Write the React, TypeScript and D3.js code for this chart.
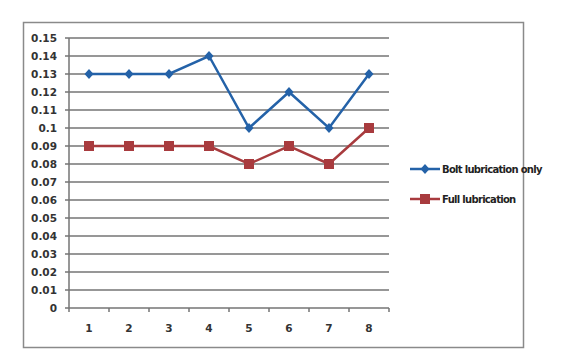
import React from "react";
import * as d3 from "d3";

const categories = ["1", "2", "3", "4", "5", "6", "7", "8"];
const boltOnly = [0.13, 0.13, 0.13, 0.14, 0.1, 0.12, 0.1, 0.13];
const fullLub = [0.09, 0.09, 0.09, 0.09, 0.08, 0.09, 0.08, 0.1];
const yTicks = [0, 0.01, 0.02, 0.03, 0.04, 0.05, 0.06, 0.07, 0.08, 0.09, 0.1, 0.11, 0.12, 0.13, 0.14, 0.15];
const seriesNames = ["Bolt lubrication only", "Full lubrication"];

const W = 561, H = 356;
const left = 69, right = 389, top = 38, bottom = 308;

export default function App() {
  const x = d3.scaleBand<string>().domain(categories).range([left, right]);
  const y = d3.scaleLinear().domain([0, 0.15]).range([bottom, top]);
  const line = d3.line<number>().x((_, i) => x(categories[i])! + x.bandwidth() / 2).y((v) => y(v));
  const blue = "#2462a8";
  const red = "#a83b3e";
  const grid = "#747474";
  const font = "'DejaVu Sans', Verdana, sans-serif";
  const diamond = (cx: number, cy: number, k: string) => (
    <path key={k} d={`M${cx},${cy - 5}L${cx + 4.5},${cy}L${cx},${cy + 5}L${cx - 4.5},${cy}Z`} fill={blue} />
  );
  const square = (cx: number, cy: number, k: string) => (
    <rect key={k} x={cx - 5} y={cy - 5} width={10} height={10} fill={red} />
  );
  return (
    <svg width={W} height={H} style={{ position: "absolute", left: 0, top: 0 }} fontFamily={font}>
      <rect x={0} y={0} width={W} height={H} fill="#fff" />
      <rect x={23.5} y={22.5} width={500} height={325} fill="none" stroke="#8a8a8a" strokeWidth={1.5} />
      {yTicks.map((t) => (
        <g key={t}>
          {t > 0 && <line x1={left} x2={right} y1={y(t)} y2={y(t)} stroke={grid} strokeWidth={1.5} />}
          <line x1={left - 4} x2={left} y1={y(t)} y2={y(t)} stroke={grid} strokeWidth={1.5} />
          <text x={57} y={y(t)} dy="0.35em" textAnchor="end" fontSize={10.5} fontWeight="bold" fill="#333">
            {String(t)}
          </text>
        </g>
      ))}
      <line x1={left} x2={left} y1={top} y2={bottom} stroke={grid} strokeWidth={1.5} />
      <line x1={left} x2={right} y1={bottom} y2={bottom} stroke={grid} strokeWidth={1.5} />
      {[...categories.map((c) => x(c)!), right].map((p, i) => (
        <line key={i} x1={p} x2={p} y1={bottom} y2={bottom + 4} stroke={grid} strokeWidth={1.5} />
      ))}
      {categories.map((c) => (
        <text key={c} x={x(c)! + x.bandwidth() / 2} y={328} dy="0.35em" textAnchor="middle" fontSize={10.5} fontWeight="bold" fill="#333">
          {c}
        </text>
      ))}
      <path d={line(fullLub)!} fill="none" stroke={red} strokeWidth={2.5} />
      {fullLub.map((v, i) => square(x(categories[i])! + x.bandwidth() / 2, y(v), "s" + i))}
      <path d={line(boltOnly)!} fill="none" stroke={blue} strokeWidth={2.5} />
      {boltOnly.map((v, i) => diamond(x(categories[i])! + x.bandwidth() / 2, y(v), "d" + i))}
      <line x1={410} x2={440} y1={169} y2={169} stroke={blue} strokeWidth={2.5} />
      {diamond(425, 169, "ld")}
      <text x={442} y={169} dy="0.35em" fontSize={10} fontWeight="bold" fill="#222" letterSpacing={-0.7}>
        {seriesNames[0]}
      </text>
      <line x1={410} x2={440} y1={199} y2={199} stroke={red} strokeWidth={2.5} />
      {square(425, 199, "ls")}
      <text x={442} y={199} dy="0.35em" fontSize={10} fontWeight="bold" fill="#222" letterSpacing={-0.7}>
        {seriesNames[1]}
      </text>
    </svg>
  );
}
